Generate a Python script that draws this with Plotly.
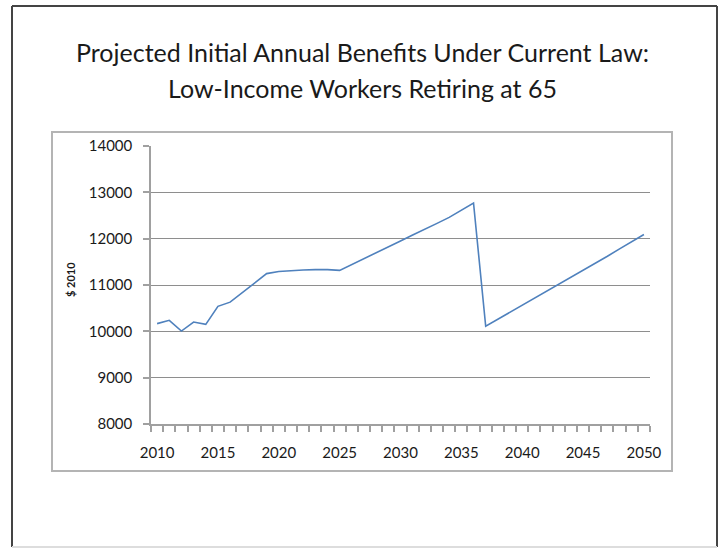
import plotly.graph_objects as go

years = list(range(2010, 2051))
benefits = [10166, 10238, 10006, 10200, 10150, 10540, 10630, 10830, 11040, 11246,
            11290, 11311, 11325, 11332, 11332, 11315, 11440, 11560, 11690, 11820,
            11950, 12080, 12200, 12330, 12460, 12610, 12770, 10110, 10260, 10410,
            10560, 10710, 10860, 11010, 11160, 11320, 11470, 11620, 11780, 11930,
            12090]
x_tick_labels = [2010, 2015, 2020, 2025, 2030, 2035, 2040, 2045, 2050]
y_ticks = [8000, 9000, 10000, 11000, 12000, 13000, 14000]
title_lines = ["Projected Initial Annual Benefits Under Current Law:",
               "Low-Income Workers Retiring at 65"]
y_label = "$ 2010"

FONT = "Lato, 'Open Sans', sans-serif"
TXT = "#1a1a1a"

fig = go.Figure()
fig.add_trace(go.Scatter(x=years, y=benefits, mode="lines",
                         line=dict(color="#4f81bd", width=1.6),
                         hoverinfo="x+y", showlegend=False))

# plot area in pixels: x 151..650, y 146..424
L, R, T, B = 151, 650, 146, 424
W, H = 720, 550
def px(x):
    return (x - L) / (R - L)
def py(y):
    return (B - y) / (B - T)

shapes = []
# outer chart border
for (x0, y0, x1, y1, c) in [(12, 6, 12, 547, "#444444"), (12, 6, 717, 6, "#444444"),
                            (717, 6, 717, 547, "#444444"), (12, 547, 717, 547, "#dddddd")]:
    shapes.append(dict(type="line", xref="paper", yref="paper",
                       x0=px(x0), y0=py(y0), x1=px(x1), y1=py(y1),
                       line=dict(color=c, width=2)))
# inner plot-area box
shapes.append(dict(type="rect", xref="paper", yref="paper",
                   x0=px(52), y0=py(471), x1=px(672), y1=py(132),
                   line=dict(color="#b4b4b4", width=2), fillcolor="rgba(0,0,0,0)"))

annotations = [
    dict(text=title_lines[0], xref="paper", yref="paper", x=px(362.5), y=py(52),
         xanchor="center", yanchor="middle", showarrow=False,
         font=dict(family=FONT, size=25, color=TXT)),
    dict(text=title_lines[1], xref="paper", yref="paper", x=px(362.5), y=py(88),
         xanchor="center", yanchor="middle", showarrow=False,
         font=dict(family=FONT, size=25, color=TXT)),
    dict(text="<b>" + y_label + "</b>", xref="paper", yref="paper", x=px(70), y=py(280),
         xanchor="center", yanchor="middle", showarrow=False, textangle=-90,
         font=dict(family=FONT, size=11, color=TXT)),
]

fig.update_layout(
    width=W, height=H,
    margin=dict(l=L, r=W - R, t=T, b=H - B, pad=0),
    paper_bgcolor="white", plot_bgcolor="white",
    shapes=shapes, annotations=annotations,
    xaxis=dict(range=[2009.5, 2050.5], tickvals=x_tick_labels,
               ticktext=[str(v) for v in x_tick_labels],
               showgrid=False, zeroline=False, showline=True,
               linecolor="#a0a0a0", linewidth=1.5,
               ticks="", ticklabelstandoff=14,
               minor=dict(tick0=2009.5, dtick=1, ticks="outside", ticklen=6,
                          tickcolor="#a0a0a0", tickwidth=1.5, showgrid=False),
               tickfont=dict(family=FONT, size=15, color=TXT)),
    yaxis=dict(range=[8000, 14000], tickvals=y_ticks,
               ticktext=[str(v) for v in y_ticks],
               showgrid=True, gridcolor="#8e8e8e", gridwidth=1.2,
               zeroline=False, showline=True, linecolor="#a0a0a0", linewidth=1.5,
               ticks="outside", ticklen=6, tickcolor="#a0a0a0", tickwidth=1.5,
               ticklabelstandoff=8,
               tickfont=dict(family=FONT, size=15, color=TXT)),
    font=dict(family=FONT),
)

fig.write_html("out.html", config={"displayModeBar": False},
               post_script="document.body.style.margin='0';document.body.style.overflow='hidden';")
